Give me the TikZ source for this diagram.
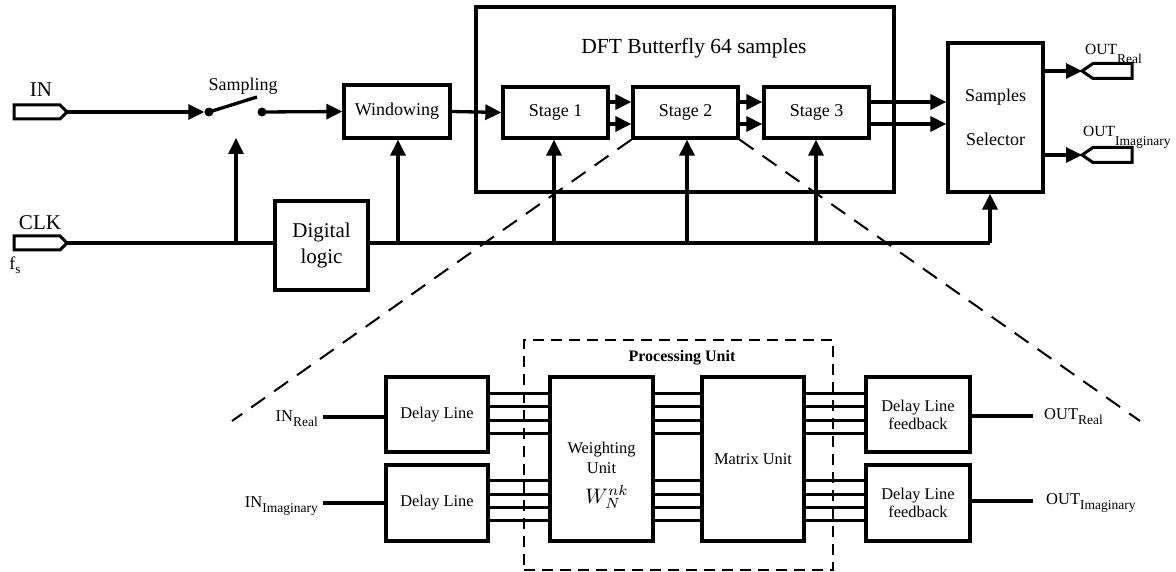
\documentclass[tikz,border=0pt]{standalone}
\usepackage{graphicx}
\usepackage{fontspec}
\setmainfont{Liberation Serif}
\usetikzlibrary{arrows.meta}
\newcommand{\mysub}[4]{#1\raisebox{-#3}{\fontsize{#4}{#4}\selectfont #2}}
\begin{document}
\begin{tikzpicture}[x=1pt,y=-1pt,
  blk/.style={draw,line width=3.3pt,inner sep=0pt,align=center},
  big/.style={font=\fontsize{18}{21}\selectfont},
  huge/.style={font=\fontsize{21}{26}\selectfont},
  sm/.style={font=\fontsize{16.4}{18}\selectfont},
  wire/.style={line width=3.3pt},
  arr/.style={line width=3.3pt,-{Triangle[length=16pt,width=15pt]}},
  bus/.style={line width=3pt},
  zoomln/.style={line width=2pt,dash pattern=on 17pt off 11pt},
  pudash/.style={line width=2pt,dash pattern=on 11pt off 7pt},
  port/.style={line width=3pt,line join=miter},
  dot/.style={circle,fill,inner sep=0pt,minimum size=9pt}]
\useasboundingbox (0,0) rectangle (1176,572);
\coordinate (ya) at (0,102);
\coordinate (yb) at (0,124);

% ---------- top blocks
\node[blk,minimum width=418pt,minimum height=185pt] (dft) at (685,99.5) {};
\node[font=\fontsize{21.5}{24}\selectfont] (dfttitle) at (694,48) {DFT Butterfly 64 samples};
\node[blk,big,minimum width=106pt,minimum height=53pt] (win) at (397,111.5) {Windowing};
\node[blk,big,minimum width=105pt,minimum height=51pt] (st1) at (555.5,112.5) {Stage 1};
\node[blk,big,minimum width=105pt,minimum height=51pt] (st2) at (685.5,112.5) {Stage 2};
\node[blk,big,minimum width=105pt,minimum height=51pt] (st3) at (816.5,112.5) {Stage 3};
\node[blk,font=\fontsize{18}{44}\selectfont,minimum width=95pt,minimum height=149pt] (sel) at (995.5,117.5) {Samples\\Selector};
\node[blk,huge,minimum width=93pt,minimum height=89pt] (dl) at (321.5,245.5) {Digital\\logic};

% ---------- IN port and switch
\draw[port] (14,105) -- (60,105) -- (67,112) -- (60,119) -- (14,119) -- cycle;
\coordinate (intip) at (67,112);
\node[huge] (inlbl) at (41,90) {IN};
\node[dot] (sw1) at (209,112) {};
\node[dot] (sw2) at (262,112) {};
\coordinate (lever) at (257,97);
\draw[wire] (sw1.center) -- (lever);
\node[big] (samp) at (243,86) {Sampling};
\draw[arr] (intip) -- (sw1.west);
\draw[arr] (sw2.center) -- (win.west);

% ---------- CLK port
\draw[port] (14,236) -- (60,236) -- (67,243) -- (60,250) -- (14,250) -- cycle;
\coordinate (clktip) at (67,243);
\node[huge] (clklbl) at (40,223) {CLK};
\node[font=\fontsize{18}{20}\selectfont] (fs) at (15,265) {\mysub{f}{s}{4pt}{13}};

% ---------- clock distribution
\coordinate (c0) at (236,243);
\coordinate (c1) at (398,243);
\coordinate (c2) at (554,243);
\coordinate (c3) at (687,243);
\coordinate (c4) at (816,243);
\coordinate (c5) at (990,243);
\coordinate (swtip) at (236,138);
\draw[wire] (clktip) -- (clktip -| dl.west);
\draw[wire] (dl.east |- c0) -- (c5);
\draw[arr] (c5) -- (c5 |- sel.south);
\draw[arr] (c0) -- (swtip);
\draw[arr] (c1) -- (c1 |- win.south);
\draw[arr] (c2) -- (c2 |- st1.south);
\draw[arr] (c3) -- (c3 |- st2.south);
\draw[arr] (c4) -- (c4 |- st3.south);

% ---------- data path
\draw[arr] (win.east) -- (st1.west);
\draw[arr] (st1.east |- ya) -- (st2.west |- ya);
\draw[arr] (st1.east |- yb) -- (st2.west |- yb);
\draw[arr] (st2.east |- ya) -- (st3.west |- ya);
\draw[arr] (st2.east |- yb) -- (st3.west |- yb);
\draw[arr] (st3.east |- ya) -- (sel.west |- ya);
\draw[arr] (st3.east |- yb) -- (sel.west |- yb);

% ---------- OUT ports
\draw[port] (1082,71) -- (1093,63.5) -- (1132,63.5) -- (1132,78.5) -- (1093,78.5) -- cycle;
\coordinate (o1tip) at (1082,71);
\draw[port] (1082,155) -- (1093,147.5) -- (1132,147.5) -- (1132,162.5) -- (1093,162.5) -- cycle;
\coordinate (o2tip) at (1082,155);
\draw[arr] (sel.east |- o1tip) -- (o1tip);
\draw[arr] (sel.east |- o2tip) -- (o2tip);
\node[anchor=base west,inner sep=0pt,font=\fontsize{15.5}{17}\selectfont] (o1lbl) at (1085,55) {\mysub{OUT}{Real}{9pt}{13.5}};
\node[anchor=base west,inner sep=0pt,font=\fontsize{15.5}{17}\selectfont] (o2lbl) at (1083,137) {\mysub{OUT}{Imaginary}{9pt}{13.5}};

% ---------- zoom lines
\coordinate (zl) at (232,421);
\coordinate (zr) at (1140,421);
\draw[zoomln] (st2.south west) -- (zl);
\draw[zoomln] (st2.south east) -- (zr);

% ---------- lower detail
\node[draw,pudash,minimum width=309pt,minimum height=230pt] (pu) at (678.5,455) {};
\node[font=\bfseries\fontsize{16}{18}\selectfont] (pulbl) at (682,358) {Processing Unit};
\node[blk,sm,minimum width=102pt,minimum height=75pt] (d1) at (437,414.5) {Delay Line};
\node[blk,sm,minimum width=102pt,minimum height=76pt] (d2) at (437,503) {Delay Line};
\node[blk,minimum width=103pt,minimum height=164pt] (wu) at (601.5,459) {};
\node[align=center,font=\fontsize{16.4}{20}\selectfont] (wulbl) at (601.5,458) {Weighting\\Unit};
\node (wn) at (607,497) {\scalebox{2.1}{$W_N^{nk}$}};
\node[blk,sm,minimum width=102pt,minimum height=164pt] (mu) at (753,459) {Matrix Unit};
\node[blk,sm,minimum width=104pt,minimum height=75pt] (f1) at (918,414.5) {Delay Line\\feedback};
\node[blk,sm,minimum width=104pt,minimum height=76pt] (f2) at (918,503) {Delay Line\\feedback};

\foreach \y in {393.5,406.8,420.1,433.4,480.7,494,507.3,520.6}{
  \draw[bus] (d1.east |- 0,\y) -- (wu.west |- 0,\y);
  \draw[bus] (wu.east |- 0,\y) -- (mu.west |- 0,\y);
  \draw[bus] (mu.east |- 0,\y) -- (f1.west |- 0,\y);
}

\coordinate (ir) at (323,417);
\coordinate (ii) at (323,503);
\coordinate (or) at (1033,416);
\coordinate (oi) at (1033,501);
\draw[wire] (ir) -- (d1.west |- ir);
\draw[wire] (ii) -- (d2.west |- ii);
\draw[wire] (f1.east |- or) -- (or);
\draw[wire] (f2.east |- oi) -- (oi);
\node[anchor=base east,inner sep=0pt,font=\fontsize{16.5}{18}\selectfont] (irl) at (318,421) {\mysub{IN}{Real}{5pt}{13.5}};
\node[anchor=base east,inner sep=0pt,font=\fontsize{16.5}{18}\selectfont] (iil) at (318,507) {\mysub{IN}{Imaginary}{5pt}{13.5}};
\node[anchor=base west,inner sep=0pt,font=\fontsize{16.5}{18}\selectfont] (orl) at (1044,419) {\mysub{OUT}{Real}{5pt}{13.5}};
\node[anchor=base west,inner sep=0pt,font=\fontsize{16.5}{18}\selectfont] (oil) at (1046,504) {\mysub{OUT}{Imaginary}{5pt}{13.5}};
\end{tikzpicture}
\end{document}
